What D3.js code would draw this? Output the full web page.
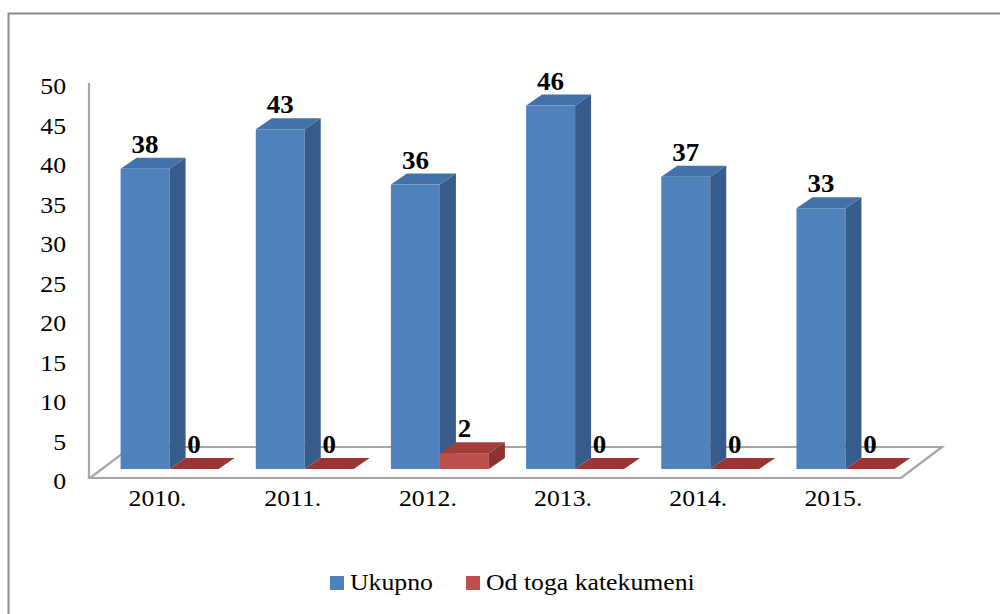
<!DOCTYPE html>
<html>
<head>
<meta charset="utf-8">
<script src="https://cdn.jsdelivr.net/npm/d3@7"></script>
<style>
  body { margin: 0; background: #fff; }
  svg { display: block; }
</style>
</head>
<body>
<div class="canvas"></div>
<script>
const years = ["2010.", "2011.", "2012.", "2013.", "2014.", "2015."];
const series = ["Ukupno", "Od toga katekumeni"];
const ukupno = [38, 43, 36, 46, 37, 33];
const katekumeni = [0, 0, 2, 0, 0, 0];
const yTicks = [0, 5, 10, 15, 20, 25, 30, 35, 40, 45, 50];

const width = 1000;
const height = 614;
const sx = 1.12; // text is a bit wide in the picture
const font = "'Times New Roman', 'Liberation Serif', Tinos, serif";

const svg = d3.select(".canvas").append("svg")
  .attr("width", width).attr("height", height)
  .attr("font-family", font);

// outer frame (right and bottom edges fall outside the picture)
svg.append("rect")
  .attr("x", 8.5).attr("y", 13.5)
  .attr("width", 1100).attr("height", 700)
  .attr("fill", "none").attr("stroke", "#8c8c8c").attr("stroke-width", 2);

// front plane scales
const y = d3.scaleLinear().domain([0, 50]).range([478, 83]);
const x = d3.scaleBand().domain(years).range([90, 901]);
const inner = d3.scaleBand().domain(series).range([0, x.bandwidth()])
  .paddingInner(0).paddingOuter(0.38);

// depth offsets
const floorDx = 41, floorDy = -31;   // full floor depth
const barDx = 12, barDy = -9;        // bar plane from front
const depthDx = 16, depthDy = -11;   // bar thickness

const colors = {
  "Ukupno": { front: "#4f81bd", top: "#4272a9", side: "#375c8b" },
  "Od toga katekumeni": { front: "#c0504d", top: "#a13e3b", side: "#8c3230" }
};

// floor
const gray = "#a6a6a6";
const y0 = y(0);
const xL = x.range()[0], xR = x.range()[1];
svg.append("path")
  .attr("d", `M${xL},${y0} L${xR},${y0} L${xR + floorDx},${y0 + floorDy} L${xL + floorDx},${y0 + floorDy} Z`)
  .attr("fill", "none").attr("stroke", gray).attr("stroke-width", 2.2);

// value axis line
svg.append("line")
  .attr("x1", 89).attr("x2", 89)
  .attr("y1", y(50)).attr("y2", y0)
  .attr("stroke", gray).attr("stroke-width", 2.2);

// y tick labels
svg.selectAll(".ytick").data(yTicks).join("text")
  .attr("class", "ytick")
  .attr("transform", d => `translate(66,${y(d) + 11}) scale(${sx},1)`)
  .attr("text-anchor", "end")
  .attr("font-size", 23)
  .text(d => d);

// category labels
svg.selectAll(".xtick").data(years).join("text")
  .attr("class", "xtick")
  .attr("transform", d => `translate(${x(d) + x.bandwidth() / 2},${506}) scale(${sx},1)`)
  .attr("text-anchor", "middle")
  .attr("font-size", 23)
  .text(d => d);

// bars
const rows = [];
years.forEach((yr, i) => {
  rows.push({ year: yr, s: series[0], v: ukupno[i] });
  rows.push({ year: yr, s: series[1], v: katekumeni[i] });
});

const w = inner.bandwidth();
const barG = svg.append("g");
rows.forEach(d => {
  const x0 = x(d.year) + inner(d.s) + barDx;
  const bot = y(0) + barDy;
  const top = y(d.v) + barDy;
  const c = colors[d.s];
  const g = barG.append("g");
  if (d.v > 0) {
    g.append("rect")
      .attr("x", x0).attr("y", top)
      .attr("width", w).attr("height", bot - top)
      .attr("fill", c.front);
    g.append("path")
      .attr("d", `M${x0 + w},${top} L${x0 + w + depthDx},${top + depthDy} L${x0 + w + depthDx},${bot + depthDy} L${x0 + w},${bot} Z`)
      .attr("fill", c.side);
  }
  g.append("path")
    .attr("d", `M${x0},${top} L${x0 + depthDx},${top + depthDy} L${x0 + w + depthDx},${top + depthDy} L${x0 + w},${top} Z`)
    .attr("fill", d.v > 0 ? c.top : "#9b3533");

  g.append("text")
    .attr("transform", `translate(${x0 + w / 2},${top - 16}) scale(1.08,1)`)
    .attr("text-anchor", "middle")
    .attr("font-size", 25)
    .attr("font-weight", "bold")
    .text(d.v);
});

// legend
const legend = [
  { s: series[0], x: 330, tx: 350 },
  { s: series[1], x: 466, tx: 486 }
];
legend.forEach(l => {
  svg.append("rect")
    .attr("x", l.x).attr("y", 576)
    .attr("width", 14).attr("height", 14)
    .attr("fill", colors[l.s].front);
  svg.append("text")
    .attr("transform", `translate(${l.tx},590) scale(${sx},1)`)
    .attr("font-size", 23)
    .text(l.s);
});
</script>
</body>
</html>
